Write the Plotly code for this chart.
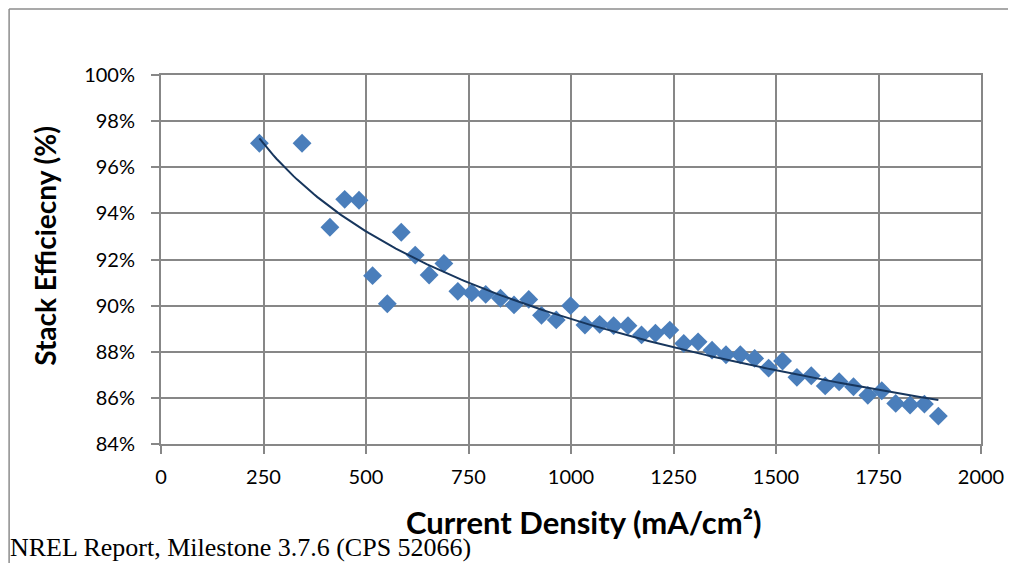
import numpy as np
import plotly.graph_objects as go

# Data
current_density = [240, 344, 412, 448, 483, 516, 552, 586, 620, 654, 690, 724, 758,
                   792, 828, 861, 897, 928, 964, 999, 1034, 1070, 1104, 1139, 1172,
                   1206, 1241, 1275, 1310, 1344, 1378, 1413, 1448, 1482, 1516, 1551,
                   1586, 1620, 1654, 1689, 1724, 1758, 1792, 1827, 1862, 1896]
efficiency = [97.04, 97.04, 93.40, 94.61, 94.57, 91.30, 90.08, 93.18, 92.19, 91.33,
              91.83, 90.62, 90.55, 90.49, 90.32, 90.03, 90.27, 89.58, 89.38, 90.00,
              89.16, 89.19, 89.13, 89.13, 88.73, 88.80, 88.94, 88.36, 88.43, 88.07,
              87.87, 87.87, 87.71, 87.29, 87.60, 86.89, 86.96, 86.52, 86.70, 86.48,
              86.11, 86.31, 85.76, 85.69, 85.73, 85.21]
x_ticks = [0, 250, 500, 750, 1000, 1250, 1500, 1750, 2000]
y_ticks = [84, 86, 88, 90, 92, 94, 96, 98, 100]
y_tick_labels = [f"{v}%" for v in y_ticks]

# Logarithmic trendline (as Excel does)
xa = np.array(current_density, dtype=float)
ya = np.array(efficiency, dtype=float)
a, b = np.polyfit(np.log(xa), ya, 1)
trend_x = np.linspace(xa.min(), xa.max(), 200)
trend_y = a * np.log(trend_x) + b

# The page body has an 8px margin, so the figure is offset by 8px
OFF = 8
W, H = 1016 - OFF, 563 - OFF
L, R, T, B = 161 - OFF, 29, 75 - OFF, 119
PW, PH = W - L - R, H - T - B

def px(xp):  # page pixel -> paper x
    return (xp - OFF - L) / PW

def py(yp):  # page pixel -> paper y
    return (H - B - (yp - OFF)) / PH

GRID = "#878787"
FONT = "Lato, 'Open Sans', sans-serif"

fig = go.Figure()
fig.add_trace(go.Scatter(
    x=current_density, y=efficiency, mode="markers",
    marker=dict(symbol="diamond", size=14.5, color="#4A7EBB",
                line=dict(width=0)),
    showlegend=False, hoverinfo="x+y"))
fig.add_trace(go.Scatter(
    x=trend_x, y=trend_y, mode="lines",
    line=dict(color="#17365D", width=2),
    showlegend=False, hoverinfo="skip"))

fig.update_xaxes(
    range=[0, 2000], tickvals=x_ticks, ticktext=[str(v) for v in x_ticks],
    showgrid=True, gridcolor=GRID, gridwidth=2,
    showline=True, linecolor=GRID, linewidth=2, mirror=True,
    ticks="outside", ticklen=8, tickwidth=2, tickcolor=GRID,
    tickfont=dict(family=FONT, size=20, color="#000000"),
    ticklabelstandoff=6, zeroline=False)
fig.update_yaxes(
    range=[84, 100], tickvals=y_ticks, ticktext=y_tick_labels,
    showgrid=True, gridcolor=GRID, gridwidth=2,
    showline=True, linecolor=GRID, linewidth=2, mirror=True,
    ticks="outside", ticklen=8, tickwidth=2, tickcolor=GRID,
    tickfont=dict(family=FONT, size=20, color="#000000"),
    ticklabelstandoff=12, zeroline=False)

annotations = [
    dict(text="Current Density (mA/cm²)", x=px(587), y=py(522), xref="paper", yref="paper",
         showarrow=False, xanchor="center", yanchor="middle",
         font=dict(family=FONT, size=31, color="#000000", weight="bold")),
    dict(text="Stack Efficiecny (%)", x=px(44), y=py(246), xref="paper", yref="paper",
         showarrow=False, xanchor="center", yanchor="middle", textangle=-90,
         font=dict(family=FONT, size=28, color="#000000", weight="bold")),
    dict(text="NREL Report, Milestone 3.7.6 (CPS 52066)", x=px(7), y=py(547),
         xref="paper", yref="paper", showarrow=False, xanchor="left", yanchor="middle",
         font=dict(family="'Liberation Serif', 'Times New Roman', serif", size=26,
                   color="#000000")),
]

shapes = [
    dict(type="line", xref="paper", yref="paper", x0=px(8), x1=px(1020),
         y0=py(9), y1=py(9), line=dict(color="#8C8C8C", width=1.5)),
    dict(type="line", xref="paper", yref="paper", x0=px(8), x1=px(8),
         y0=py(9), y1=py(570), line=dict(color="#8C8C8C", width=1.5)),
]

fig.update_layout(
    width=W, height=H, autosize=False,
    margin=dict(l=L, r=R, t=T, b=B, pad=0),
    paper_bgcolor="#FFFFFF", plot_bgcolor="#FFFFFF",
    annotations=annotations, shapes=shapes,
)

fig.write_html("out.html")
